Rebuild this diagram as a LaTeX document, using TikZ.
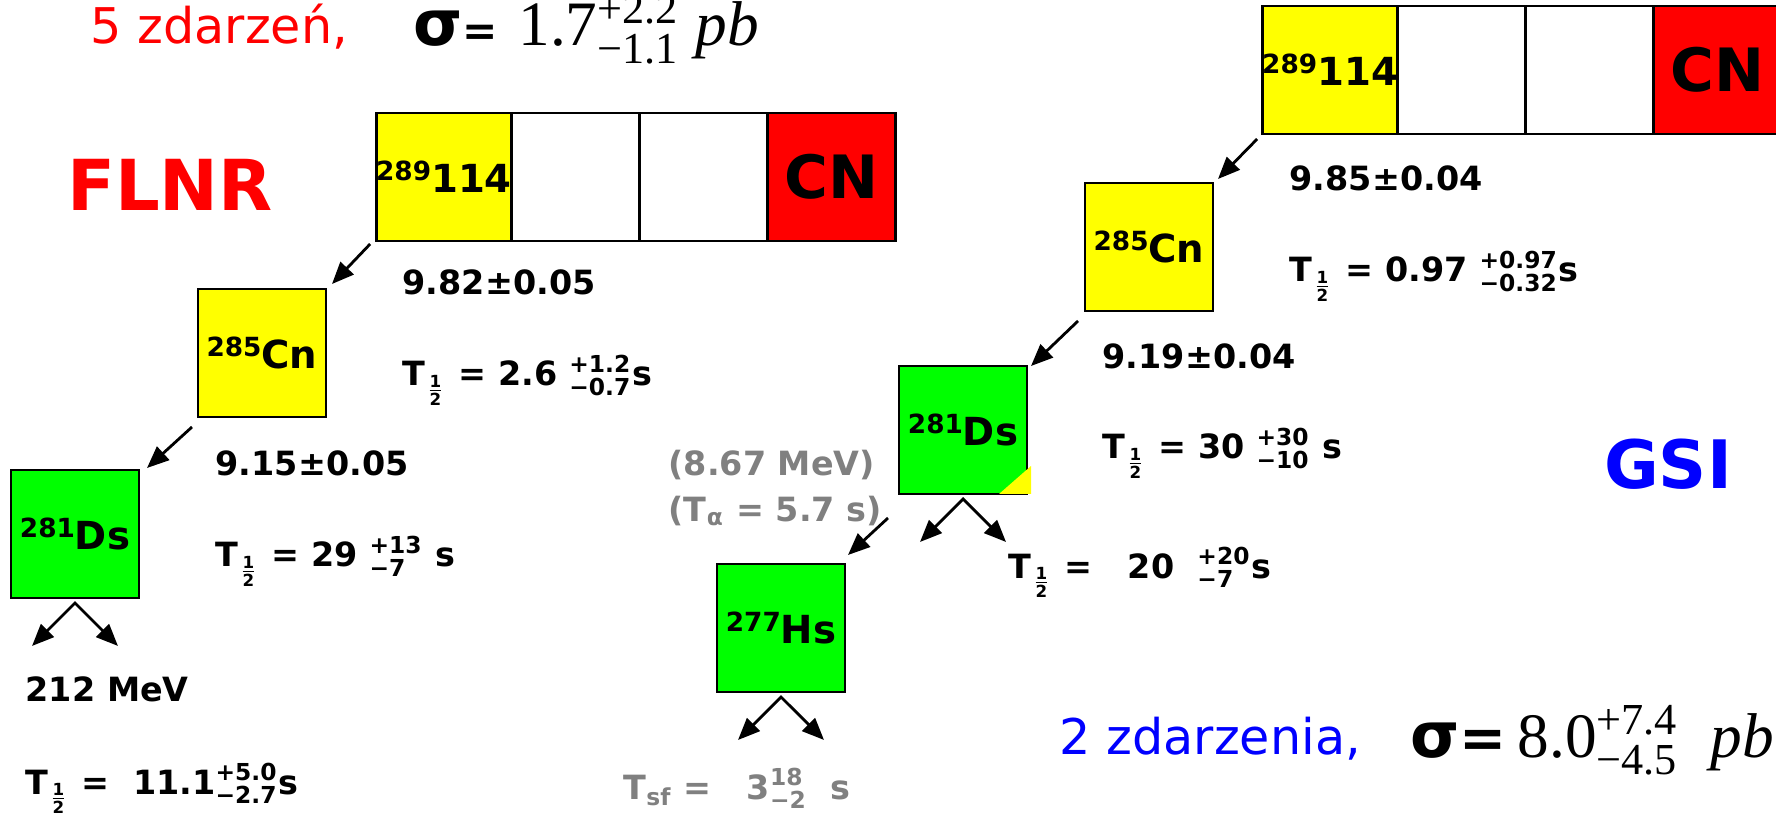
\documentclass[tikz,border=0pt]{standalone}
\usepackage{fontspec}
\usepackage{amsmath}
\setmainfont{DejaVu Sans}
\newfontfamily\timesfont{Liberation Serif}
\usetikzlibrary{arrows.meta,positioning}
\definecolor{nucyellow}{HTML}{FFFF00}
\definecolor{nucgreen}{HTML}{00FF00}
\definecolor{nucred}{HTML}{FF0000}
\definecolor{labred}{HTML}{FF0000}
\definecolor{labblue}{HTML}{0000FF}
\definecolor{fadegray}{HTML}{808080}
\tikzset{
  cell/.style={
    rectangle, draw=black, line width=0.8pt, outer sep=0pt, inner sep=0pt,
    minimum width=1.28cm, minimum height=1.28cm,
    font=\fontsize{11}{13}\selectfont\bfseries
  },
  cnlabel/.style={font=\fontsize{17}{20}\selectfont\bfseries},
  decay/.style={-{Triangle[length=2.2mm,width=1.8mm]}, line width=0.8pt},
  fork/.style={{Triangle[length=2.2mm,width=1.8mm]}-{Triangle[length=2.2mm,width=1.8mm]}, line width=0.8pt},
  value/.style={anchor=base west, inner sep=0pt, font=\fontsize{9.5}{11}\selectfont\bfseries},
  faded/.style={value, text=fadegray},
  lab/.style={font=\fontsize{20}{24}\selectfont\bfseries},
  events/.style={anchor=base west, inner sep=0pt, font=\fontsize{14}{16}\selectfont},
  xsec/.style={anchor=base west, inner sep=0pt, font=\fontsize{18}{20}\selectfont}
}
\newcommand{\thalf}{T$_{\frac{\text{1}}{\text{2}}}$}
\newcommand{\err}[2]{$^{\text{#1}}_{\text{#2}}$}
\newcommand{\nuc}[2]{\raisebox{3.5pt}{\fontsize{7.5}{9}\selectfont #1}#2}
\newcommand{\sigeq}[1]{{\bfseries σ{\fontsize{#1}{14}\selectfont =}}}
\newcommand{\splitdecay}[1]{
  \draw[fork] ([shift={(-0.43,-0.48)}]#1.south) -- ([yshift=-0.05cm]#1.south)
    -- ([shift={(0.43,-0.48)}]#1.south);
}

\begin{document}
\begin{tikzpicture}[node distance=0pt]
\useasboundingbox (0,0) rectangle (17.76,8.14);
\clip (0,0) rectangle (17.76,8.14);
% FLNR chain
\node[cell, fill=nucyellow] (f114) at (4.44,6.37) {\nuc{289}{114}};
\node[cell, right=of f114] (fgap1) {};
\node[cell, right=of fgap1] (fgap2) {};
\node[cell, fill=nucred, cnlabel, right=of fgap2] (fcn) {CN};
\node[cell, fill=nucyellow] (fcn285) at (2.62,4.61) {\nuc{285}{Cn}};
\node[cell, fill=nucgreen] (fds281) at (0.75,2.80) {\nuc{281}{Ds}};
\draw[decay] ([shift={(-0.06,-0.03)}]f114.south west) -- ([shift={(0.06,0.05)}]fcn285.north east);
\draw[decay] ([shift={(-0.06,-0.10)}]fcn285.south west) -- ([shift={(0.08,0.02)}]fds281.north east);
\splitdecay{fds281}
\node[value] (fq1) at (4.02,5.19) {9.82±0.05};
\node[value] (ft1) at (4.02,4.28) {\thalf{} = 2.6 \err{+1.2}{−0.7}s};
\node[value] (fq2) at (2.15,3.38) {9.15±0.05};
\node[value] (ft2) at (2.15,2.47) {\thalf{} = 29 \err{+13}{−7} s};
\node[value] (fsf) at (0.25,1.13) {212 MeV};
\node[value] (ft3) at (0.25,0.20) {\thalf{} = \ 11.1\err{+5.0}{−2.7}s};
\node[lab, text=labred] (flnr) at (1.70,6.29) {FLNR};
\node[events, text=labred] (fev) at (0.90,7.70) {5 zdarzeń,};
\node[xsec] (fxs) at (4.13,7.68) {\sigeq{12} {\timesfont 1.7$^{\text{+2.2}}_{\text{−1.1}}$ \textit{pb}}};

% GSI chain
\node[cell, fill=nucyellow] (g114) at (13.30,7.44) {\nuc{289}{114}};
\node[cell, right=of g114] (ggap1) {};
\node[cell, right=of ggap1] (ggap2) {};
\node[cell, fill=nucred, cnlabel, right=of ggap2] (gcn) {CN};
\node[cell, fill=nucyellow] (gcn285) at (11.49,5.67) {\nuc{285}{Cn}};
\node[cell, fill=nucgreen] (gds281) at (9.63,3.84) {\nuc{281}{Ds}};
\fill[nucyellow] ([xshift=0.04cm]gds281.south east) -- ([xshift=-0.28cm]gds281.south east)
  -- ([shift={(0.04,0.28)}]gds281.south east) -- cycle;
\node[cell, fill=nucgreen] (ghs277) at (7.81,1.86) {\nuc{277}{Hs}};
\draw[decay] ([shift={(-0.05,-0.05)}]g114.south west) -- ([shift={(0.05,0.04)}]gcn285.north east);
\draw[decay] ([shift={(-0.07,-0.10)}]gcn285.south west) -- ([shift={(0.04,0.0)}]gds281.north east);
\draw[decay] ([shift={(-0.11,-0.24)}]gds281.south west) -- ([shift={(0.03,0.09)}]ghs277.north east);
\splitdecay{gds281}
\splitdecay{ghs277}
\node[value] (gq1) at (12.89,6.23) {9.85±0.04};
\node[value] (gt1) at (12.89,5.32) {\thalf{} = 0.97 \err{+0.97}{−0.32}s};
\node[value] (gq2) at (11.02,4.45) {9.19±0.04};
\node[value] (gt2) at (11.02,3.55) {\thalf{} = 30 \err{+30}{−10} s};
\node[value] (gt3) at (10.08,2.36) {\thalf{} = \ \ 20 \ \err{+20}{−7}s};
\node[faded] (gqa) at (6.68,3.38) {(8.67 MeV)};
\node[faded] (gta) at (6.68,2.92) {(T$_{\text{α}}$ = 5.7 s)};
\node[faded] (gtsf) at (6.23,0.15) {T$_{\text{sf}}$ = \ \ 3\err{18}{−2} \ s};
\node[lab, text=labblue, font=\fontsize{19}{22}\selectfont\bfseries] (gsi) at (16.68,3.50) {GSI};
\node[events, text=labblue] (gev) at (10.59,0.60) {2 zdarzenia,};
\node[xsec] (gxs) at (14.10,0.57) {\sigeq{16}\,{\timesfont 8.0$^{\text{+7.4}}_{\text{−4.5}}$ \ \textit{pb}}};
\end{tikzpicture}
\end{document}
